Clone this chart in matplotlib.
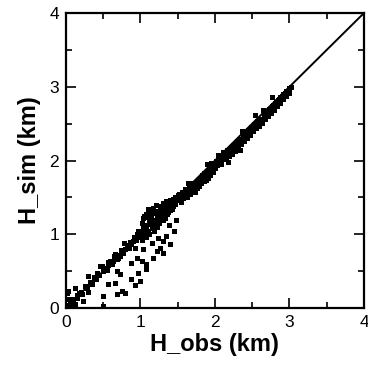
import matplotlib.pyplot as plt
from matplotlib.ticker import MultipleLocator

font = "Liberation Sans"

# points near origin and along the line, 0 - 0.5
obs_a = [0.02, 0.03, 0.05, 0.08, 0.10, 0.12, 0.15, 0.18, 0.20, 0.22, 0.25, 0.28, 0.30, 0.33, 0.35, 0.38,
         0.40, 0.42, 0.45, 0.48, 0.50, 0.03, 0.08, 0.12, 0.26, 0.30, 0.23, 0.50, 0.05, 0.01, 0.15]
sim_a = [0.20, 0.12, 0.05, 0.10, 0.08, 0.27, 0.14, 0.20, 0.22, 0.19, 0.30, 0.27, 0.43, 0.35, 0.33, 0.42,
         0.40, 0.47, 0.45, 0.57, 0.50, 0.23, 0.12, 0.06, 0.30, 0.22, 0.09, 0.03, 0.02, 0.04, 0.18]

# along the line, 0.5 - 1.0
obs_b = [0.52, 0.55, 0.57, 0.60, 0.62, 0.64, 0.66, 0.68, 0.70, 0.72, 0.74, 0.76, 0.78, 0.80, 0.82, 0.84,
         0.86, 0.88, 0.90, 0.92, 0.94, 0.96, 0.98, 0.99, 0.56, 0.63, 0.70, 0.77, 0.85, 0.91, 0.97]
sim_b = [0.55, 0.52, 0.63, 0.61, 0.60, 0.70, 0.74, 0.67, 0.72, 0.70, 0.79, 0.75, 0.88, 0.80, 0.83, 0.85,
         0.90, 0.87, 0.91, 0.96, 0.92, 1.00, 0.97, 1.02, 0.58, 0.64, 0.68, 0.78, 0.82, 0.95, 1.05]

# underestimated points below the line
obs_c = [0.79, 0.93, 1.04, 0.95, 1.02, 1.08, 1.17, 0.88, 0.72, 0.66, 0.57, 0.88, 0.93, 0.99, 0.97, 1.08,
         0.75, 0.68, 0.79, 0.50, 0.68, 0.59, 0.46, 1.26, 1.40, 1.30, 1.24, 1.35, 1.30, 1.22, 1.15,
         1.45, 1.38, 1.48]
sim_c = [0.80, 0.81, 0.80, 0.68, 0.64, 0.60, 0.68, 0.61, 0.46, 0.34, 0.33, 0.39, 0.31, 0.37, 0.47, 0.53,
         0.23, 0.19, 0.20, 0.16, 0.50, 0.64, 0.57, 0.81, 0.87, 0.91, 0.95, 0.98, 0.75, 0.77, 0.88,
         1.05, 1.12, 1.20]

# dense cluster, 1.0 - 1.5
obs_d = [1.00, 1.01, 1.02, 1.03, 1.04, 1.05, 1.06, 1.07, 1.08, 1.09, 1.10, 1.11, 1.12, 1.13, 1.14, 1.15,
         1.16, 1.17, 1.18, 1.19, 1.20, 1.21, 1.22, 1.23, 1.24, 1.25, 1.26, 1.27, 1.28, 1.29, 1.30, 1.31,
         1.32, 1.33, 1.34, 1.35, 1.36, 1.37, 1.38, 1.39, 1.40, 1.41, 1.42, 1.43, 1.44, 1.45, 1.46, 1.47,
         1.48, 1.49, 1.50, 1.02, 1.05, 1.08, 1.10, 1.12, 1.15, 1.18, 1.20, 1.22, 1.25, 1.28, 1.30, 1.33,
         1.36, 1.40, 1.44, 1.47]
sim_d = [1.05, 0.98, 1.15, 1.08, 1.22, 1.02, 1.12, 1.28, 1.10, 1.23, 1.05, 1.18, 1.33, 1.14, 1.26, 1.08,
         1.20, 1.36, 1.15, 1.29, 1.12, 1.40, 1.22, 1.31, 1.18, 1.27, 1.38, 1.21, 1.33, 1.25, 1.42, 1.29,
         1.36, 1.27, 1.45, 1.32, 1.40, 1.30, 1.43, 1.36, 1.47, 1.38, 1.44, 1.35, 1.48, 1.42, 1.51, 1.44,
         1.50, 1.46, 1.53, 0.93, 1.25, 0.97, 1.35, 1.00, 1.30, 1.05, 1.32, 1.10, 1.15, 1.19, 1.20, 1.22,
         1.28, 1.33, 1.39, 1.41]

# tight band, 1.5 - 3.0
obs_e = [1.51, 1.52, 1.53, 1.54, 1.55, 1.56, 1.57, 1.58, 1.59, 1.60, 1.61, 1.62, 1.63, 1.64, 1.65, 1.66,
         1.67, 1.68, 1.69, 1.70, 1.71, 1.72, 1.73, 1.74, 1.75, 1.76, 1.77, 1.78, 1.79, 1.80, 1.81, 1.82,
         1.83, 1.84, 1.85, 1.86, 1.87, 1.88, 1.89, 1.90, 1.91, 1.92, 1.93, 1.94, 1.95, 1.96, 1.97, 1.98,
         1.99, 2.00, 2.02, 2.03, 2.04, 2.06, 2.07, 2.08, 2.10, 2.11, 2.12, 2.14, 2.15, 2.16, 2.18, 2.19,
         2.20, 2.22, 2.23, 2.24, 2.26, 2.27, 2.28, 2.30, 2.31, 2.32, 2.34, 2.35, 2.36, 2.38, 2.39, 2.40,
         2.42, 2.43, 2.44, 2.46, 2.47, 2.48, 2.50, 2.51, 2.52, 2.54, 2.55, 2.56, 2.58, 2.59, 2.60, 2.62,
         2.63, 2.64, 2.66, 2.67, 2.68, 2.70, 2.71, 2.72, 2.74, 2.75, 2.76, 2.78, 2.79, 2.80, 2.82, 2.83,
         2.84, 2.86, 2.87, 2.88, 2.90, 2.91, 2.92, 2.94, 2.95, 2.96, 2.98, 2.99, 3.00, 3.02,
         2.77, 2.54, 1.89, 1.64, 2.34, 2.17]
sim_e = [1.47, 1.55, 1.50, 1.44, 1.53, 1.58, 1.49, 1.56, 1.52, 1.61, 1.55, 1.50, 1.60, 1.57, 1.63, 1.58,
         1.55, 1.66, 1.62, 1.60, 1.69, 1.64, 1.58, 1.70, 1.67, 1.63, 1.74, 1.70, 1.66, 1.77, 1.73, 1.69,
         1.80, 1.76, 1.72, 1.83, 1.79, 1.74, 1.86, 1.82, 1.76, 1.88, 1.85, 1.80, 1.97, 1.91, 1.85, 1.93,
         1.96, 1.90, 2.00, 1.94, 2.07, 1.99, 2.04, 1.96, 2.06, 2.12, 2.02, 2.09, 2.05, 2.14, 2.11, 2.06,
         2.17, 2.15, 2.09, 2.21, 2.20, 2.13, 2.24, 2.26, 2.19, 2.29, 2.28, 2.22, 2.40, 2.33, 2.27, 2.37,
         2.36, 2.31, 2.41, 2.40, 2.34, 2.45, 2.46, 2.40, 2.50, 2.49, 2.44, 2.53, 2.52, 2.47, 2.57, 2.57,
         2.51, 2.68, 2.62, 2.57, 2.65, 2.66, 2.61, 2.70, 2.70, 2.64, 2.74, 2.75, 2.69, 2.78, 2.79, 2.74,
         2.82, 2.83, 2.78, 2.86, 2.87, 2.83, 2.90, 2.91, 2.87, 2.94, 2.95, 2.91, 2.98, 3.00,
         2.86, 2.62, 1.96, 1.70, 2.14, 1.98]

h_obs = obs_a + obs_b + obs_c + obs_d + obs_e
h_sim = sim_a + sim_b + sim_c + sim_d + sim_e

fig = plt.figure(figsize=(3.68, 3.73), dpi=100)
ax = fig.add_axes([0.179, 0.174, 0.81, 0.791])

ax.plot(h_obs, h_sim, 's', color='black', markersize=3.6, markeredgewidth=0)
ax.axline((0, 0), slope=1, color='black', linewidth=1.4)

ax.set_xlim(0, 4)
ax.set_ylim(0, 4)
ax.xaxis.set_major_locator(MultipleLocator(1))
ax.yaxis.set_major_locator(MultipleLocator(1))
ax.xaxis.set_minor_locator(MultipleLocator(0.5))
ax.yaxis.set_minor_locator(MultipleLocator(0.5))
ax.tick_params(which='both', direction='in', top=True, right=True, width=1.2)
ax.tick_params(which='major', length=7, labelsize=12.5, pad=5)
ax.tick_params(which='minor', length=4)
for lab in ax.get_xticklabels() + ax.get_yticklabels():
    lab.set_fontname(font)
for sp in ax.spines.values():
    sp.set_linewidth(1.6)

ax.set_xlabel("H_obs (km)", fontname=font, fontsize=17, fontweight='bold', labelpad=2)
ax.set_ylabel("H_sim (km)", fontname=font, fontsize=17, fontweight='bold', labelpad=6)

fig.savefig("out.png", dpi=100)
